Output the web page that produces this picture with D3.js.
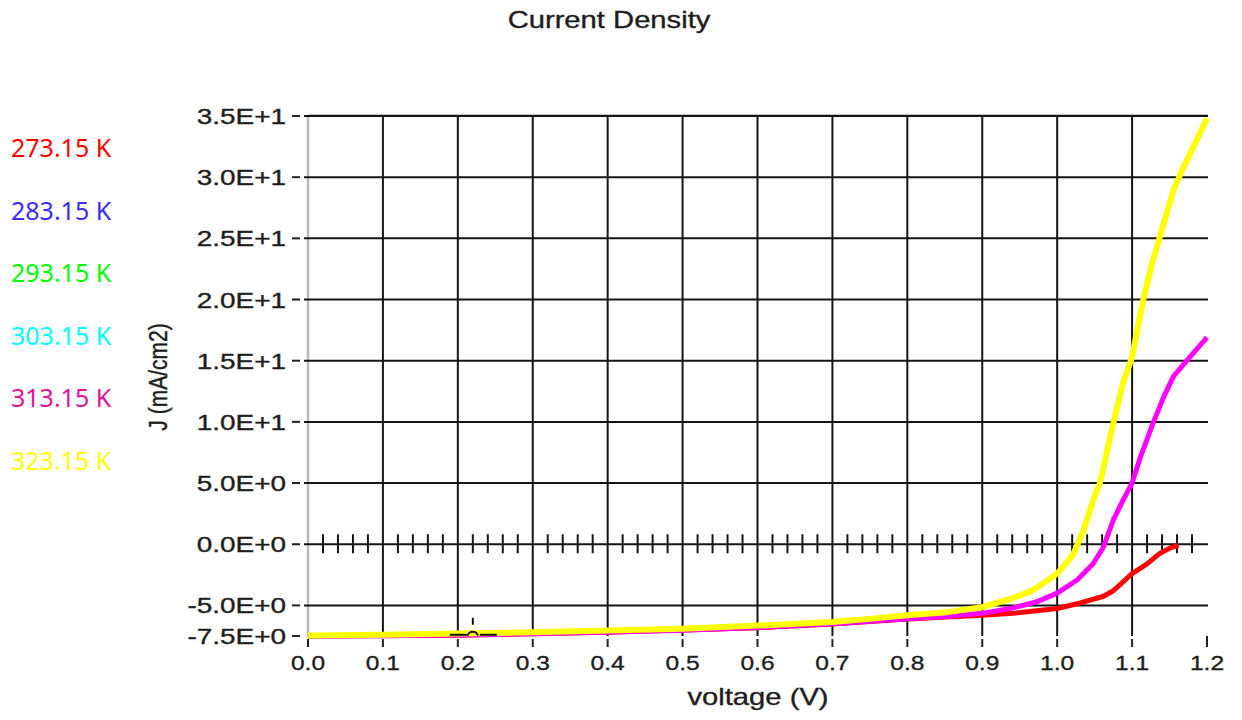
<!DOCTYPE html>
<html>
<head>
<meta charset="utf-8">
<script src="https://cdn.jsdelivr.net/npm/d3@7"></script>
<style>
  body { margin: 0; background: #fff; }
  svg { display: block; }
</style>
</head>
<body>
<div id="chart"></div>
<script>
// ---- data ----
var temps = ["273.15 K", "283.15 K", "293.15 K", "303.15 K", "313.15 K", "323.15 K"];
var tempColors = ["#ff0000", "#3a2cff", "#00ff00", "#00ffff", "#e0129a", "#ffff00"];

var xTicks = [0, 0.1, 0.2, 0.3, 0.4, 0.5, 0.6, 0.7, 0.8, 0.9, 1.0, 1.1, 1.2];
var xTickLabels = ["0.0", "0.1", "0.2", "0.3", "0.4", "0.5", "0.6", "0.7", "0.8", "0.9", "1.0", "1.1", "1.2"];
var yTicks = [35, 30, 25, 20, 15, 10, 5, 0, -5, -7.5];
var yTickLabels = ["3.5E+1", "3.0E+1", "2.5E+1", "2.0E+1", "1.5E+1", "1.0E+1", "5.0E+0", "0.0E+0", "-5.0E+0", "-7.5E+0"];

// 313.15 K (magenta)
var vMagenta = [0, 0.1, 0.2, 0.3, 0.4, 0.5, 0.6, 0.7, 0.8, 0.853, 0.9, 0.941, 0.973, 1.0, 1.027, 1.048, 1.062, 1.075, 1.088, 1.1, 1.111, 1.128, 1.142, 1.155, 1.173, 1.2];
var jMagenta = [-7.5, -7.48, -7.42, -7.32, -7.18, -7.02, -6.8, -6.5, -6.1, -5.9, -5.65, -5.2, -4.7, -4.0, -2.9, -1.6, -0.2, 2.0, 3.6, 5.0, 7.1, 9.9, 12.0, 13.7, 15.0, 16.9];
// 273.15 K (red)
var vRed = [0, 0.2, 0.4, 0.6, 0.7, 0.8, 0.9, 0.941, 1.0, 1.031, 1.062, 1.075, 1.1, 1.12, 1.137, 1.151, 1.162];
var jRed = [-7.5, -7.43, -7.2, -6.82, -6.52, -6.12, -5.8, -5.65, -5.25, -4.8, -4.25, -3.8, -2.4, -1.6, -0.75, -0.3, -0.1];
// 323.15 K (yellow)
var vYellow = [0, 0.1, 0.2, 0.3, 0.4, 0.5, 0.6, 0.7, 0.75, 0.8, 0.853, 0.9, 0.941, 0.968, 1.0, 1.021, 1.035, 1.048, 1.057, 1.075, 1.088, 1.1, 1.107, 1.115, 1.127, 1.137, 1.155, 1.167, 1.182, 1.2];
var jYellow = [-7.45, -7.4, -7.3, -7.2, -7.05, -6.9, -6.65, -6.35, -6.1, -5.8, -5.55, -5.15, -4.4, -3.75, -2.4, -0.9, 1.1, 3.6, 5.0, 9.9, 13.2, 15.3, 17.5, 20.0, 23.0, 25.1, 28.9, 30.6, 32.5, 34.8];

// cursor marker sitting on the curves
var cursorV = 0.22, cursorJ = -7.4;

var W = 1242, H = 720;
var svg = d3.select("#chart").append("svg").attr("width", W).attr("height", H);

var x = d3.scaleLinear().domain([0, 1.2]).range([308, 1207]);
var y = d3.scaleLinear().domain([-7.5, 35]).range([636, 116]);

var font = "'Liberation Sans', Arial, sans-serif";

// the picture is stretched sideways, so the chart text is too
function addText(px, py, str, size, sx, anchor, rot) {
    var t = svg.append("text")
        .attr("transform", "translate(" + px + "," + py + ") scale(" + sx + ",1)" + (rot ? " rotate(" + rot + ")" : ""))
        .attr("text-anchor", anchor)
        .style("font-family", font)
        .style("font-size", size + "px")
        .style("fill", "#1e1e1e")
        .style("stroke", "#1e1e1e")
        .style("stroke-width", 0.35)
        .text(str);
    return t;
}

// title
addText(609, 28, "Current Density", 23, 1.27, "middle");

// legend (plain coloured labels, left side)
svg.append("g").selectAll("text")
    .data(temps)
    .enter()
    .append("text")
    .attr("x", 11)
    .attr("y", function(d, i){ return 157 + i * 62.6; })
    .style("font-family", "'Noto Sans', sans-serif")
    .style("font-size", "25px")
    .style("fill", function(d, i){ return tempColors[i]; })
    .text(function(d){ return d; });

// left axis (grey) and top border
svg.append("line")
    .attr("x1", x(0)).attr("x2", x(0))
    .attr("y1", y(35)).attr("y2", y(-7.5) + 1)
    .style("stroke", "#b9b9b9").style("stroke-width", 2.5);
svg.append("line")
    .attr("x1", x(0)).attr("x2", x(1.2) + 1)
    .attr("y1", y(35) - 1).attr("y2", y(35) - 1)
    .style("stroke", "#c4c4c4").style("stroke-width", 2);

// grid
var grid = svg.append("g").attr("class", "grid");
grid.selectAll("line.v")
    .data(xTicks.filter(function(d){ return d > 0 && d < 1.15; }))
    .enter()
    .append("line")
    .attr("class", "v")
    .attr("x1", function(d){ return x(d); })
    .attr("x2", function(d){ return x(d); })
    .attr("y1", y(35))
    .attr("y2", y(-7.5))
    .style("stroke", "#151515").style("stroke-width", 2);
grid.selectAll("line.h")
    .data(yTicks.filter(function(d){ return d > -7; }))
    .enter()
    .append("line")
    .attr("class", "h")
    .attr("x1", 304)
    .attr("x2", x(1.2) + 1)
    .attr("y1", function(d){ return y(d); })
    .attr("y2", function(d){ return y(d); })
    .style("stroke", "#151515").style("stroke-width", 2);

// minor ticks on the zero line
var minor = d3.range(1, 60).map(function(i){ return i * 0.02; })
    .filter(function(d){ return Math.abs(d * 10 - Math.round(d * 10)) > 0.01; });
grid.selectAll("line.m")
    .data(minor)
    .enter()
    .append("line")
    .attr("class", "m")
    .attr("x1", function(d){ return x(d); })
    .attr("x2", function(d){ return x(d); })
    .attr("y1", y(0) - 10)
    .attr("y2", y(0) + 9)
    .style("stroke", "#151515").style("stroke-width", 2);

// y ticks + labels
svg.append("g").selectAll("line")
    .data(yTicks)
    .enter()
    .append("line")
    .attr("x1", 292).attr("x2", 300)
    .attr("y1", function(d){ return y(d); })
    .attr("y2", function(d){ return y(d); })
    .style("stroke", "#222").style("stroke-width", 2);
yTicks.forEach(function(d, i){
    addText(286, y(d) + 8, yTickLabels[i], 22, 1.27, "end");
});

// x ticks + labels
svg.append("g").selectAll("line")
    .data(xTicks)
    .enter()
    .append("line")
    .attr("x1", function(d){ return x(d); })
    .attr("x2", function(d){ return x(d); })
    .attr("y1", function(d){ return d > 1.15 ? 636 : 639; })
    .attr("y2", 647)
    .style("stroke", "#222").style("stroke-width", 2);
xTicks.forEach(function(d, i){
    addText(x(d), 670, xTickLabels[i], 21, 1.17, "middle");
});

// axis titles
addText(758, 705, "voltage (V)", 23, 1.27, "middle");
addText(167, 377, "J (mA/cm2)", 21, 1.27, "middle", -90);

// curves (red underneath, yellow on top)
var series = [
    { v: vRed, j: jRed, color: "#ff0000", w: 5 },
    { v: vMagenta, j: jMagenta, color: "#ff00ff", w: 5 },
    { v: vYellow, j: jYellow, color: "#ffff00", w: 6 }
];
var line = d3.line()
    .x(function(d){ return x(d[0]); })
    .y(function(d){ return y(d[1]); });
svg.append("g").selectAll("path")
    .data(series)
    .enter()
    .append("path")
    .attr("d", function(s){ return line(d3.zip(s.v, s.j)); })
    .style("fill", "none")
    .style("stroke", function(s){ return s.color; })
    .style("stroke-width", function(s){ return s.w; })
    .style("stroke-linejoin", "round");

// cursor marker
var cx = x(cursorV), cy = y(cursorJ);
var cur = svg.append("g").style("stroke", "#111").style("stroke-width", 2).style("fill", "none");
cur.append("line").attr("x1", cx - 23).attr("x2", cx - 6).attr("y1", cy).attr("y2", cy);
cur.append("line").attr("x1", cx + 7).attr("x2", cx + 24).attr("y1", cy).attr("y2", cy);
cur.append("path").attr("d", "M" + (cx - 5) + "," + (cy + 1) + " A5,4 0 0,1 " + (cx + 5) + "," + (cy + 1));
cur.append("line").attr("x1", cx).attr("x2", cx).attr("y1", cy - 17).attr("y2", cy - 10);
</script>
</body>
</html>
